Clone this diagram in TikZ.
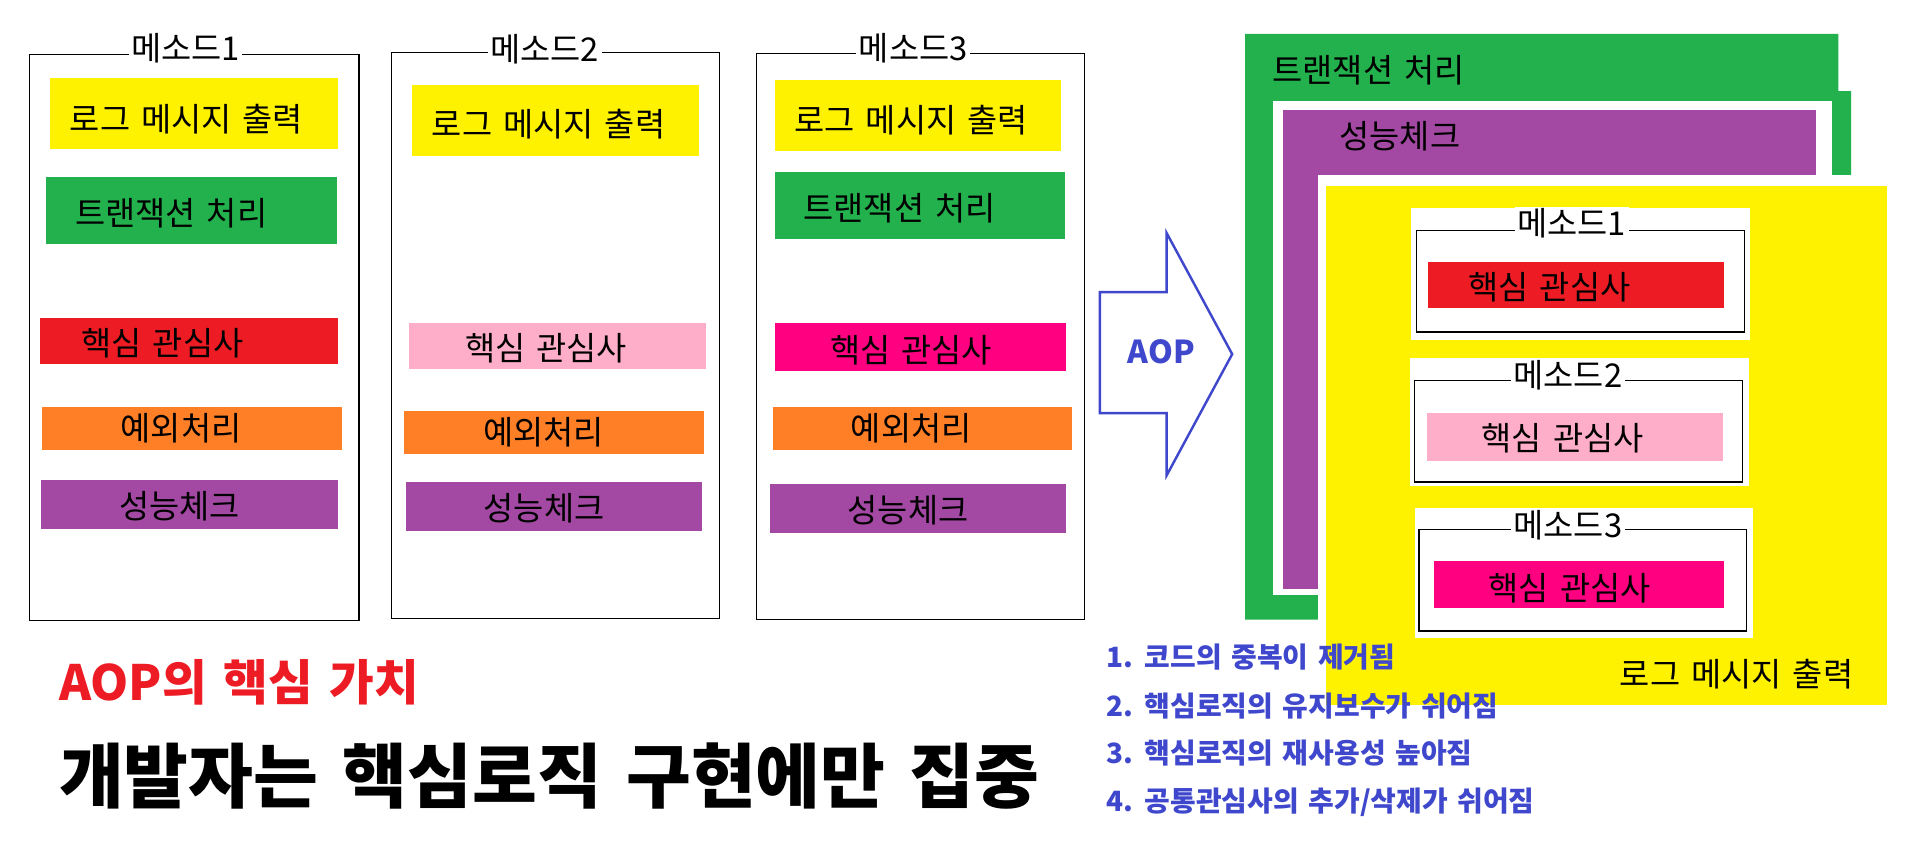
\documentclass[tikz,border=0pt]{standalone}
\usepackage{fontspec}
\newfontfamily\kr[WordSpace=0.5]{Noto Sans CJK KR}
\newfontfamily\krbox[WordSpace=1.5]{Noto Sans CJK KR}
\definecolor{ylw}{HTML}{FFF200}
\definecolor{grn}{HTML}{22B14C}
\definecolor{rd}{HTML}{ED1C24}
\definecolor{org}{HTML}{FF7F27}
\definecolor{ppl}{HTML}{A349A4}
\definecolor{pnk}{HTML}{FFAEC9}
\definecolor{mgt}{HTML}{FF0080}
\definecolor{aopblue}{HTML}{3F48CC}
\begin{document}
\begin{tikzpicture}[x=1pt, y=-1pt,
	frm/.style={shape=rectangle, draw, line width=1pt, inner sep=0pt},
	bar/.style={shape=rectangle, inner sep=0pt},
	lbl/.style={anchor=center, inner sep=0pt, font=\krbox\fontsize{27}{32}\selectfont},
	ttl/.style={lbl, fill=white, inner xsep=2pt, inner ysep=1pt},
	pnt/.style={anchor=west, inner sep=0pt, text=aopblue, font=\kr\bfseries\fontsize{23}{28}\selectfont}]
	\useasboundingbox (0, 0) rectangle (1568, 709);
	% Methods before AOP:
	\node[frm, minimum width=271, minimum height=466](F1) at (159.9, 277.75){} node[ttl](F1t) at (152.7, 39.5){메소드1};
	\node[bar, fill=ylw, minimum width=237, minimum height=58.4](F1a) at (159.7, 93.4){} node[lbl](F1at) at (153.5, 98){로그 메시지 출력};
	\node[bar, fill=grn, minimum width=239.4, minimum height=55.1](F1b) at (157.7, 173.35){} node[lbl](F1bt) at (141, 175.7){트랜잭션 처리};
	\node[bar, fill=rd, minimum width=245, minimum height=37.6](F1c) at (155.7, 280.6){} node[lbl](F1ct) at (133.7, 282.3){핵심 관심사};
	\node[bar, fill=org, minimum width=247, minimum height=35](F1d) at (158.3, 352.5){} node[lbl](F1dt) at (149, 352.8){예외처리};
	\node[bar, fill=ppl, minimum width=244.2, minimum height=40.3](F1e) at (156.1, 415.35){} node[lbl](F1et) at (148, 416.7){성능체크};

	\node[frm, minimum width=270.5, minimum height=466](F2) at (457.2, 276){} node[ttl](F2t) at (448.4, 40.3){메소드2};
	\node[bar, fill=ylw, minimum width=237, minimum height=58.1](F2a) at (457.2, 98.95){} node[lbl](F2at) at (451.5, 102.5){로그 메시지 출력};
	\node[bar, fill=pnk, minimum width=245, minimum height=38.3](F2c) at (458.8, 284.95){} node[lbl](F2ct) at (449.4, 286.3){핵심 관심사};
	\node[bar, fill=org, minimum width=247, minimum height=34.9](F2d) at (456.2, 355.85){} node[lbl](F2dt) at (447.4, 355.5){예외처리};
	\node[bar, fill=ppl, minimum width=244.1, minimum height=40](F2e) at (455.95, 416.8){} node[lbl](F2et) at (447.8, 418.3){성능체크};

	\node[frm, minimum width=270, minimum height=466](F3) at (757.4, 277){} node[ttl](F3t) at (751.7, 39.5){메소드3};
	\node[bar, fill=ylw, minimum width=235.9, minimum height=57.8](F3a) at (755.75, 95.1){} node[lbl](F3at) at (750, 99.1){로그 메시지 출력};
	\node[bar, fill=grn, minimum width=238.7, minimum height=55.1](F3b) at (757.15, 169.05){} node[lbl](F3bt) at (740.4, 171.4){트랜잭션 처리};
	\node[bar, fill=mgt, minimum width=239.5, minimum height=39.3](F3c) at (757.55, 285.45){} node[lbl](F3ct) at (749.9, 288.3){핵심 관심사};
	\node[bar, fill=org, minimum width=246.1, minimum height=35](F3d) at (759.25, 352.5){} node[lbl](F3dt) at (750, 352.8){예외처리};
	\node[bar, fill=ppl, minimum width=243.6, minimum height=40](F3e) at (755.5, 418.5){} node[lbl](F3et) at (747.5, 420){성능체크};

	% AOP arrow:
	\draw[aopblue, line width=2pt, fill=white] (905.3, 240.5) -- (960.2, 240.5) -- (960.2, 191.7) -- (1014.2, 291.5) -- (960.2, 391.4) -- (960.2, 340) -- (905.3, 340) -- cycle;
	\node[inner sep=0pt, text=aopblue, font=\kr\bfseries\fontsize{26}{30}\selectfont](aop) at (956, 289.6){AOP};

	% Layers after AOP:
	\fill[grn] (1024.8, 27.8) -- (1513.2, 27.8) -- (1513.2, 75) -- (1523.7, 75) -- (1523.7, 510) -- (1024.8, 510) -- cycle;
	\fill[white] (1047.6, 83.1) rectangle (1508.1, 489.7);
	\fill[ppl] (1056.4, 90.3) rectangle (1495, 484.8);
	\fill[white] (1084.7, 143.7) rectangle (1568, 709);
	\fill[ylw] (1091, 153.2) rectangle (1553.3, 580);
	\node[lbl](Tx) at (1126.5, 58.1){트랜잭션 처리};
	\node[lbl](Pf) at (1152.3, 112.4){성능체크};
	\node[lbl](Lg) at (1429.4, 554.5){로그 메시지 출력};

	\node[bar, fill=white, minimum width=278.5, minimum height=108.5](M1bg) at (1300.75, 225.75){};
	\node[frm, minimum width=269.8, minimum height=83.4](M1) at (1301.1, 231.5){} node[ttl](M1t) at (1293.7, 184){메소드1};
	\node[bar, fill=rd, minimum width=244, minimum height=37.7](M1c) at (1297, 234.55){} node[lbl](M1ct) at (1275.3, 236.3){핵심 관심사};

	\node[bar, fill=white, minimum width=278.6, minimum height=105.6](M2bg) at (1300, 347.4){};
	\node[frm, minimum width=269.7, minimum height=83.4](M2) at (1299.35, 355){} node[ttl](M2t) at (1290.5, 308.7){메소드2};
	\node[bar, fill=pnk, minimum width=244, minimum height=38.9](M2c) at (1296.2, 359.75){} node[lbl](M2ct) at (1286.3, 360.5){핵심 관심사};

	\node[bar, fill=white, minimum width=278.2, minimum height=106.8](M3bg) at (1303.6, 471.8){};
	\node[frm, minimum width=269.7, minimum height=83.4](M3) at (1302.75, 477.7){} node[ttl](M3t) at (1290.5, 432.5){메소드3};
	\node[bar, fill=mgt, minimum width=238.9, minimum height=39.3](M3c) at (1299.55, 481.15){} node[lbl](M3ct) at (1292, 484){핵심 관심사};

	% Texts:
	\node[anchor=west, inner sep=0pt, text=rd, font=\kr\bfseries\fontsize{40}{48}\selectfont](val) at (48.5, 562){AOP의 핵심 가치};
	\node[anchor=west, inner sep=0pt, font=\kr\bfseries\fontsize{58}{70}\selectfont](goal) at (48.5, 639){개발자는 핵심로직 구현에만 집중};
	\node[pnt](p1) at (910.3, 541){1. 코드의 중복이 제거됨};
	\node[pnt](p2) at (910.3, 581){2. 핵심로직의 유지보수가 쉬어짐};
	\node[pnt](p3) at (910.3, 620){3. 핵심로직의 재사용성 높아짐};
	\node[pnt](p4) at (910.3, 660){4. 공통관심사의 추가/삭제가 쉬어짐};
\end{tikzpicture}
\end{document}
